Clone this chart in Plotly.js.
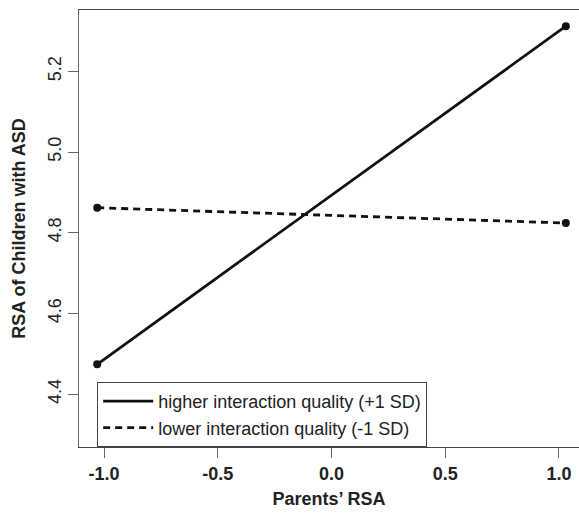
<!DOCTYPE html>
<html>
<head>
<meta charset="utf-8">
<script src="https://cdn.plot.ly/plotly-3.0.1.min.js"></script>
<style>
html,body{margin:0;padding:0;overflow:hidden;background:#fff;}
#chart{width:579px;height:513px;}
</style>
</head>
<body>
<div id="chart"></div>
<script>
// Data
var parentsRSA = [-1.03, 1.03];
var higherQuality = [4.474, 5.312];
var lowerQuality = [4.862, 4.824];
var seriesNames = ['higher interaction quality (+1 SD)', 'lower interaction quality (-1 SD)'];
var xTicks = [-1.0, -0.5, 0.0, 0.5, 1.0];
var xTickLabels = ['-1.0', '-0.5', '0.0', '0.5', '1.0'];
var yTicks = [4.4, 4.6, 4.8, 5.0, 5.2];
var yTickLabels = ['4.4', '4.6', '4.8', '5.0', '5.2'];

var FONT = '"Liberation Sans", Arial, Helvetica, sans-serif';
var XMIN = -1.11, XMAX = 1.088;

var traces = [
  {
    x: parentsRSA, y: higherQuality, name: seriesNames[0],
    type: 'scatter', mode: 'lines',
    line: {color: '#111', width: 2.8}
  },
  {
    x: parentsRSA, y: lowerQuality, name: seriesNames[1],
    type: 'scatter', mode: 'lines',
    line: {color: '#111', width: 2.8, dash: '7px,5px'}
  },
  {
    x: parentsRSA, y: higherQuality, showlegend: false,
    type: 'scatter', mode: 'markers',
    marker: {color: '#111', size: 8}
  },
  {
    x: parentsRSA, y: lowerQuality, showlegend: false,
    type: 'scatter', mode: 'markers',
    marker: {color: '#111', size: 8}
  }
];

var layout = {
  width: 579, height: 513,
  margin: {l: 79, r: 0, t: 10, b: 66},
  paper_bgcolor: '#fff', plot_bgcolor: '#fff',
  font: {family: FONT, size: 18, color: '#222'},
  showlegend: true,
  legend: {
    x: (-1.03 - XMIN) / (XMAX - XMIN), xanchor: 'left',
    y: 0, yanchor: 'bottom',
    bgcolor: '#fff', bordercolor: '#444', borderwidth: 1,
    font: {family: FONT, size: 18, color: '#222'},
    itemwidth: 50, entrywidth: 345, tracegroupgap: 0
  },
  xaxis: {
    range: [XMIN, XMAX],
    tickvals: xTicks, ticktext: xTickLabels,
    ticks: 'outside', ticklen: 10, tickwidth: 1, tickcolor: '#666',
    tickfont: {family: FONT, size: 18, color: '#222', weight: 'bold'},
    showline: true, mirror: true, linecolor: '#444', linewidth: 1,
    showgrid: false, zeroline: false,
    title: {text: '<b>Parents’ RSA</b>', font: {family: FONT, size: 18, color: '#222'}, standoff: 9}
  },
  yaxis: {
    range: [4.269, 5.352],
    tickvals: yTicks, ticktext: yTickLabels,
    ticks: 'outside', ticklen: 10, tickwidth: 1, tickcolor: '#666',
    tickangle: -90,
    tickfont: {family: FONT, size: 18, color: '#222'},
    showline: true, mirror: false, linecolor: '#666', linewidth: 1,
    showgrid: false, zeroline: false,
    title: {text: '<b>RSA of Children with ASD</b>', font: {family: FONT, size: 18, color: '#222'}, standoff: 14}
  }
};

Plotly.newPlot('chart', traces, layout, {displayModeBar: false, staticPlot: true});
</script>
</body>
</html>
